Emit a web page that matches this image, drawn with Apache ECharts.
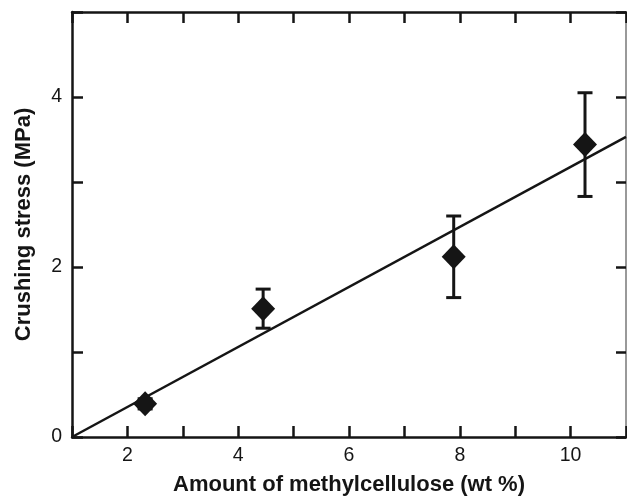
<!DOCTYPE html>
<html>
<head>
<meta charset="utf-8">
<script src="https://cdn.jsdelivr.net/npm/echarts@6/dist/echarts.min.js"></script>
<style>
  html, body { margin: 0; padding: 0; background: #fff; }
  #chart { width: 627px; height: 498px; }
</style>
</head>
<body>
<div id="chart"></div>
<script>
// Measured crushing stress vs. methylcellulose content
const mcContent = [2.32, 4.45, 7.89, 10.26];      // wt %
const stress = [0.39, 1.51, 2.12, 3.44];          // MPa
const stressErr = [0.06, 0.23, 0.48, 0.61];       // MPa (±)

// Linear fit end points
const fitX = [1, 11];
const fitY = [0, 3.53];

const xTickLabels = ['2', '4', '6', '8', '10'];
const yTickLabels = ['0', '2', '4'];

const INK = '#151515';
const FONT = '"Liberation Sans", Arial, sans-serif';

const chart = echarts.init(document.getElementById('chart'), null, { renderer: 'canvas' });

const frameLine = { onZero: false, lineStyle: { color: INK, width: 2.5 } };
const tickStyle = { color: INK, width: 2.5 };
const titleText = { fontFamily: FONT, fontWeight: 'bold', fontSize: 22, color: INK };
const tickText = { fontFamily: FONT, fontSize: 19.5, color: INK };

chart.setOption({
  animation: false,
  grid: { left: 72, right: 1, top: 12, bottom: 61, containLabel: false, outerBoundsMode: 'none' },
  xAxis: [
    {
      type: 'value', min: 1, max: 11, interval: 1, position: 'bottom',
      name: 'Amount of methylcellulose (wt %)', nameLocation: 'middle', nameGap: 37,
      nameTextStyle: titleText,
      axisLine: frameLine,
      axisTick: { inside: true, length: 11, lineStyle: tickStyle },
      axisLabel: Object.assign({
        margin: 9,
        formatter: v => xTickLabels.includes(String(v)) ? String(v) : ''
      }, tickText),
      splitLine: { show: false }
    },
    {
      type: 'value', min: 1, max: 11, interval: 1, position: 'top',
      axisLine: frameLine,
      axisTick: { inside: true, length: 11, lineStyle: tickStyle },
      axisLabel: { show: false },
      splitLine: { show: false }
    }
  ],
  yAxis: [
    {
      type: 'value', min: 0, max: 5, interval: 1, position: 'left',
      name: 'Crushing stress (MPa)', nameLocation: 'middle', nameGap: 37, nameRotate: 90,
      nameTextStyle: titleText,
      axisLine: frameLine,
      axisTick: { inside: true, length: 11, lineStyle: tickStyle },
      axisLabel: Object.assign({
        margin: 10,
        formatter: v => yTickLabels.includes(String(v)) ? String(v) : ''
      }, tickText),
      splitLine: { show: false }
    },
    {
      type: 'value', min: 0, max: 5, interval: 1, position: 'right',
      axisLine: { onZero: false, lineStyle: { color: '#999', width: 2 } },
      axisTick: { inside: true, length: 10, lineStyle: tickStyle },
      axisLabel: { show: false },
      splitLine: { show: false }
    }
  ],
  series: [
    {
      type: 'line',
      data: fitX.map((x, i) => [x, fitY[i]]),
      symbol: 'none',
      lineStyle: { color: INK, width: 2.5 },
      z: 2
    },
    {
      type: 'custom',
      data: mcContent.map((x, i) => [x, stress[i] - stressErr[i], stress[i] + stressErr[i]]),
      renderItem: (params, api) => {
        const lo = api.coord([api.value(0), api.value(1)]);
        const hi = api.coord([api.value(0), api.value(2)]);
        const half = 7.5;
        const style = { stroke: INK, lineWidth: 3 };
        return {
          type: 'group',
          children: [
            { type: 'line', shape: { x1: lo[0], y1: lo[1], x2: hi[0], y2: hi[1] }, style },
            { type: 'line', shape: { x1: lo[0] - half, y1: lo[1], x2: lo[0] + half, y2: lo[1] }, style },
            { type: 'line', shape: { x1: hi[0] - half, y1: hi[1], x2: hi[0] + half, y2: hi[1] }, style }
          ]
        };
      },
      z: 3
    },
    {
      type: 'scatter',
      data: mcContent.map((x, i) => [x, stress[i]]),
      symbol: 'diamond',
      symbolSize: [24, 25],
      itemStyle: { color: INK, opacity: 1 },
      z: 4
    }
  ]
});
</script>
</body>
</html>
